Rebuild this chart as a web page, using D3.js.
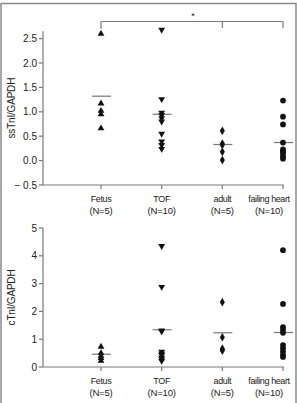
<!DOCTYPE html>
<html>
<head>
<meta charset="utf-8">
<script src="https://cdn.jsdelivr.net/npm/d3@7"></script>
<style>
  body { margin: 0; background: #fff; }
  svg { display: block; font-family: "Liberation Sans", sans-serif; }
</style>
</head>
<body>
<svg id="chart" width="297" height="403"></svg>
<script>
const svg = d3.select("#chart");

// groups and sizes
const groups = ["Fetus", "TOF", "adult", "failing heart"];
const groupN = ["(N=5)", "(N=10)", "(N=5)", "(N=10)"];
const shapes = [d3.symbolTriangle, "down", d3.symbolDiamond, d3.symbolCircle];

// ssTnI/GAPDH values
const ssFetus = [2.6, 1.17, 1.02, 0.95, 0.66];
const ssTOF = [2.68, 1.26, 0.98, 0.93, 0.87, 0.8, 0.55, 0.39, 0.32, 0.24];
const ssAdult = [0.61, 0.35, 0.32, 0.18, 0.01];
const ssFailing = [1.23, 0.9, 0.74, 0.37, 0.23, 0.2, 0.18, 0.14, 0.08, 0.04];
const ssMeans = [1.32, 0.95, 0.33, 0.37];

// cTnI/GAPDH values
const cFetus = [0.73, 0.5, 0.4, 0.32, 0.22];
const cTOF = [4.35, 2.88, 1.31, 1.28, 0.55, 0.48, 0.43, 0.34, 0.28, 0.22];
const cAdult = [2.33, 1.07, 0.66, 0.6, 0.6];
const cFailing = [4.2, 2.27, 1.43, 1.33, 1.23, 0.79, 0.67, 0.55, 0.43, 0.36];
const cMeans = [0.46, 1.34, 1.23, 1.24];

const ssTicks = [-0.5, 0, 0.5, 1, 1.5, 2, 2.5];
const cTicks = [0, 1, 2, 3, 4, 5];

const axisColor = "#7a7a7a";

// frame
svg.append("rect")
  .attr("x", 1).attr("y", 3.5)
  .attr("width", 295).attr("height", 410)
  .attr("fill", "none").attr("stroke", "#8a8a8a").attr("stroke-width", 1.5);

const x = d3.scalePoint().domain(groups).range([101, 283]);
// the last label sits a bit left of its tick
const labelX = d => x(d) + (d === "failing heart" ? -14 : 0);

function panel(opts) {
  const { y, series, means, ticks, yTop, title, fmt, labelY } = opts;
  const g = svg.append("g");
  const x0 = 43;
  const yBase = y(ticks[0]);

  // y axis
  g.append("line")
    .attr("x1", x0).attr("x2", x0)
    .attr("y1", y(yTop)).attr("y2", yBase)
    .attr("stroke", axisColor).attr("stroke-width", 1.2);
  // x axis
  g.append("line")
    .attr("x1", x0).attr("x2", x(groups[3]) + 1)
    .attr("y1", yBase).attr("y2", yBase)
    .attr("stroke", axisColor).attr("stroke-width", 1.2);

  g.selectAll(".yt").data(ticks).join("line")
    .attr("x1", x0 - 4).attr("x2", x0)
    .attr("y1", d => y(d)).attr("y2", d => y(d))
    .attr("stroke", axisColor).attr("stroke-width", 1.2);
  g.selectAll(".yl").data(ticks).join("text")
    .attr("x", x0 - 6).attr("y", d => y(d) + 3.5)
    .attr("text-anchor", "end").attr("font-size", 10).attr("fill", "#222")
    .text(fmt);

  g.selectAll(".xt").data(groups).join("line")
    .attr("x1", d => x(d)).attr("x2", d => x(d))
    .attr("y1", yBase).attr("y2", yBase + 4)
    .attr("stroke", axisColor).attr("stroke-width", 1.2);

  g.selectAll(".xl1").data(groups).join("text")
    .attr("x", labelX).attr("y", labelY)
    .attr("text-anchor", "middle").attr("font-size", 9)
    .attr("letter-spacing", -0.4).attr("fill", "#222")
    .text(d => d);
  g.selectAll(".xl2").data(groups).join("text")
    .attr("x", labelX).attr("y", labelY + 12)
    .attr("text-anchor", "middle").attr("font-size", 9.5)
    .attr("letter-spacing", -0.2).attr("fill", "#222")
    .text((d, i) => groupN[i]);

  g.append("text")
    .attr("transform", `translate(15,${(y(yTop) + yBase) / 2}) rotate(-90)`)
    .attr("text-anchor", "middle").attr("font-size", 10)
    .attr("letter-spacing", -0.2).attr("fill", "#222")
    .text(title);

  // mean lines
  g.selectAll(".mean").data(means).join("line")
    .attr("x1", (d, i) => x(groups[i]) - 9).attr("x2", (d, i) => x(groups[i]) + 10)
    .attr("y1", d => y(d)).attr("y2", d => y(d))
    .attr("stroke", "#777").attr("stroke-width", 1.2);

  // points
  series.forEach((vals, i) => {
    const sh = shapes[i];
    const sym = d3.symbol().type(sh === "down" ? d3.symbolTriangle : sh)
      .size(sh === d3.symbolCircle ? 26 : sh === d3.symbolDiamond ? 22 : 20);
    g.selectAll(null).data(vals).join("path")
      .attr("d", sym)
      .attr("transform", d => `translate(${x(groups[i])},${y(d)})` + (sh === "down" ? " rotate(180)" : ""))
      .attr("fill", "#111");
  });
}

// top panel
const ySs = d3.scaleLinear().domain([-0.5, 2.5]).range([185, 38.6]);
panel({
  y: ySs, series: [ssFetus, ssTOF, ssAdult, ssFailing], means: ssMeans,
  ticks: ssTicks, yTop: 2.65, title: "ssTnI/GAPDH",
  fmt: d => d < 0 ? "\u2212 " + d3.format(".1f")(-d) : d3.format(".1f")(d),
  labelY: 202
});

// significance bracket
const bY = 21.5;
svg.append("line")
  .attr("x1", x("Fetus")).attr("x2", x("failing heart"))
  .attr("y1", bY).attr("y2", bY)
  .attr("stroke", axisColor).attr("stroke-width", 1.2);
svg.selectAll(".br").data(["Fetus", "adult", "failing heart"]).join("line")
  .attr("x1", d => x(d)).attr("x2", d => x(d))
  .attr("y1", bY).attr("y2", d => d === "Fetus" ? 29 : 28)
  .attr("stroke", axisColor).attr("stroke-width", 1.2);
svg.append("text")
  .attr("x", 193).attr("y", 19).attr("text-anchor", "middle")
  .attr("font-size", 9).attr("fill", "#222").text("*");

// bottom panel
const yC = d3.scaleLinear().domain([0, 5]).range([367, 228]);
panel({
  y: yC, series: [cFetus, cTOF, cAdult, cFailing], means: cMeans,
  ticks: cTicks, yTop: 5, title: "cTnI/GAPDH",
  fmt: d => d3.format("d")(d),
  labelY: 384
});
</script>
</body>
</html>
